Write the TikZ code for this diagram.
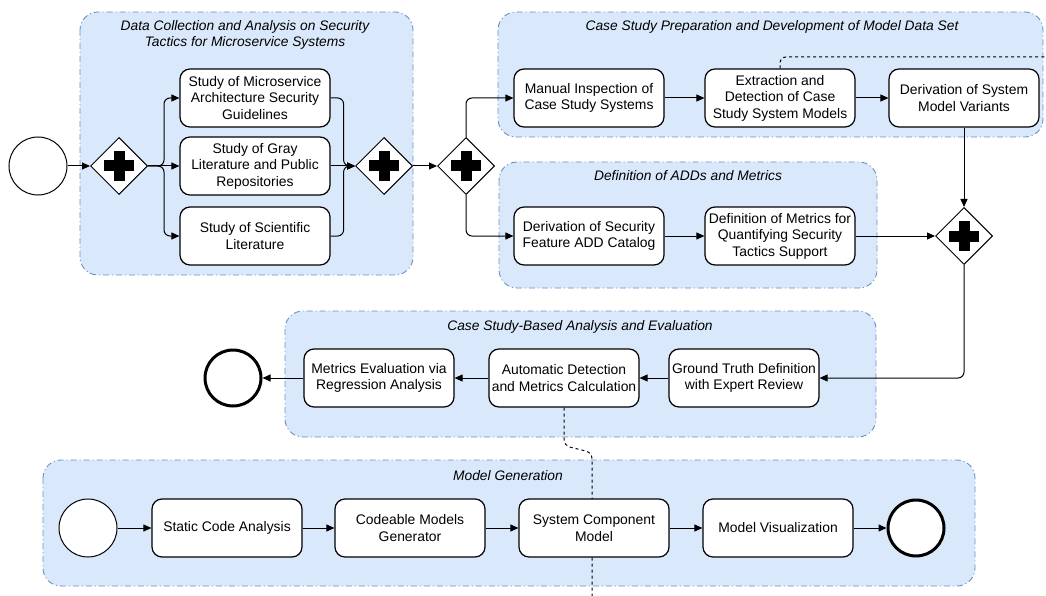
\documentclass[tikz,border=0pt]{standalone}
\usepackage{fontspec}
\setmainfont{Liberation Sans}
\usetikzlibrary{shapes.geometric,arrows.meta,backgrounds}
\definecolor{lanefill}{HTML}{DAE8FC}
\definecolor{lanedraw}{HTML}{6C8EBF}
\tikzset{
  lane/.style={draw=lanedraw,fill=lanefill,line width=0.9pt,dash pattern=on 6pt off 3pt on 1pt off 3pt,rounded corners=18pt},
  lanetitle/.style={font=\fontsize{13.8}{16}\selectfont\itshape,align=center},
  task/.style={draw,fill=white,line width=1.2pt,rounded corners=10pt,minimum width=150pt,minimum height=58pt,align=center,inner sep=1pt,font=\fontsize{13.9}{16.5}\selectfont},
  gate/.style={draw,fill=white,diamond,minimum width=57pt,minimum height=57pt,inner sep=0pt,line width=1pt},
  evstart/.style={draw,fill=white,circle,minimum size=58pt,inner sep=0pt,line width=1pt},
  evend/.style={draw,fill=white,circle,minimum size=56pt,inner sep=0pt,line width=3pt},
  flow/.style={-{Triangle[length=8pt,width=7pt]},line width=1pt,rounded corners=6pt},
  assoc/.style={dashed,line width=1pt,rounded corners=6pt}
}
\begin{document}
\begin{tikzpicture}[x=1pt,y=-1pt]
\useasboundingbox (0,0) rectangle (1046,596);
% tasks, gateways and events
\node[evstart] (s1) at (38,166) {};
\node[gate] (g1) at (119,166) {};
\node[task] (t11) at (255,98) {Study of Microservice\\Architecture Security\\Guidelines};
\node[task] (t12) at (255,166) {Study of Gray\\Literature and Public\\Repositories};
\node[task] (t13) at (255,236) {Study of Scientific\\Literature};
\node[gate] (g2) at (384,166) {};
\node[gate] (g3) at (466,166) {};
\node[task] (t21) at (589,98) {Manual Inspection of\\Case Study Systems};
\node[task] (t22) at (780,98) {Extraction and\\Detection of Case\\Study System Models};
\node[task] (t23) at (964,98) {Derivation of System\\Model Variants};
\node[task] (t31) at (589,236) {Derivation of Security\\Feature ADD Catalog};
\node[task] (t32) at (780,236) {Definition of Metrics for\\Quantifying Security\\Tactics Support};
\node[gate] (g4) at (964,236) {};
\node[task] (t41) at (744,378) {Ground Truth Definition\\with Expert Review};
\node[task] (t42) at (564,378) {Automatic Detection\\and Metrics Calculation};
\node[task] (t43) at (379,378) {Metrics Evaluation via\\Regression Analysis};
\node[evend] (e1) at (233,378) {};
\node[evstart] (s2) at (88,528) {};
\node[task] (t51) at (227,528) {Static Code Analysis};
\node[task] (t52) at (410,528) {Codeable Models\\Generator};
\node[task] (t53) at (594,528) {System Component\\Model};
\node[task] (t54) at (778,528) {Model Visualization};
\node[evend] (e2) at (916,528) {};
\foreach \g in {g1,g2,g3,g4} {
  \fill ([shift={(-15,-5.5)}]\g.center) rectangle ([shift={(15,5.5)}]\g.center);
  \fill ([shift={(-5.5,-15)}]\g.center) rectangle ([shift={(5.5,15)}]\g.center);
}
% lanes and associations behind
\begin{scope}[on background layer]
\draw[lane] (80,12) rectangle (413,275);
\draw[lane] (498,12) rectangle (1043,137);
\draw[lane] (499,162) rectangle (877,288);
\draw[lane] (285,311) rectangle (876,437);
\draw[lane] (43,460) rectangle (975,586);
\node[lanetitle] (l1) at (245,35) {Data Collection and Analysis on Security\\Tactics for Microservice Systems};
\node[lanetitle] (l2) at (772,27) {Case Study Preparation and Development of Model Data Set};
\node[lanetitle] (l3) at (688,176) {Definition of ADDs and Metrics};
\node[lanetitle] (l4) at (580,327) {Case Study-Based Analysis and Evaluation};
\node[lanetitle] (l5) at (508,476) {Model Generation};
\coordinate (a1) at (1046,57);
\coordinate (a2) at (592,597);
\draw[assoc] (t22.north) |- (a1);
\draw[assoc] (t42.south) -- ++(0,38) -- ++(28,7) -- (a2);
\end{scope}
% sequence flows
\draw[flow] (s1) -- (g1);
\draw[flow] (g1.east) -- ++(16,0) |- (t11.west);
\draw[flow] (g1) -- (t12);
\draw[flow] (g1.east) -- ++(16,0) |- (t13.west);
\draw[flow] (t11.east) -- ++(13,0) |- (g2.west);
\draw[flow] (t12) -- (g2);
\draw[flow] (t13.east) -- ++(13,0) |- (g2.west);
\draw[flow] (g2) -- (g3);
\draw[flow] (g3.north) |- (t21.west);
\draw[flow] (g3.south) |- (t31.west);
\draw[flow] (t21) -- (t22);
\draw[flow] (t22) -- (t23);
\draw[flow] (t23) -- (g4);
\draw[flow] (t31) -- (t32);
\draw[flow] (t32) -- (g4);
\draw[flow] (g4.south) |- (t41.east);
\draw[flow] (t41) -- (t42);
\draw[flow] (t42) -- (t43);
\draw[flow] (t43) -- (e1);
\draw[flow] (s2) -- (t51);
\draw[flow] (t51) -- (t52);
\draw[flow] (t52) -- (t53);
\draw[flow] (t53) -- (t54);
\draw[flow] (t54) -- (e2);
\end{tikzpicture}
\end{document}
